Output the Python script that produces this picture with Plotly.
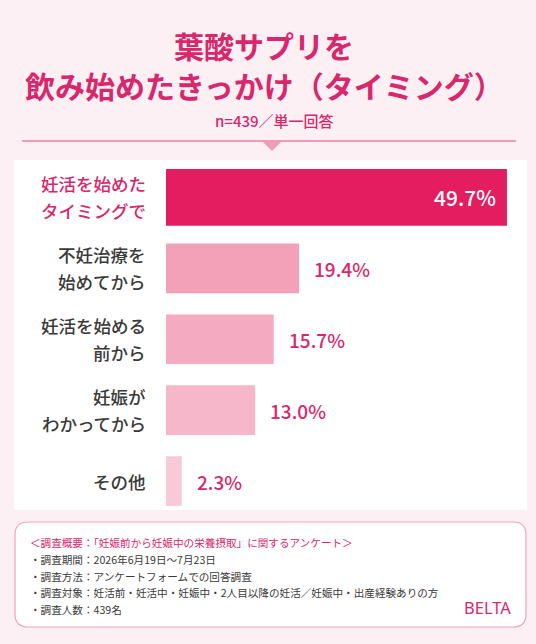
import plotly.graph_objects as go

# ---- data ----
categories = ["妊活を始めた<br>タイミングで", "不妊治療を<br>始めてから", "妊活を始める<br>前から",
              "妊娠が<br>わかってから", "その他"]
values = [49.7, 19.4, 15.7, 13.0, 2.3]
title_lines = ["葉酸サプリを", "飲み始めたきっかけ（タイミング）"]
subtitle = "n=439／単一回答"
footer_head = "＜調査概要：「妊娠前から妊娠中の栄養摂取」に関するアンケート＞"
footer_lines = ["・調査期間：2026年6月19日～7月23日",
                "・調査方法：アンケートフォームでの回答調査",
                "・調査対象：妊活前・妊活中・妊娠中・2人目以降の妊活／妊娠中・出産経験ありの方",
                "・調査人数：439名"]
brand = "BELTA"

# ---- styles ----
W, H = 536, 644
FONT = "Noto Sans CJK JP"
PINK = "#d9276c"
bar_colors = ["#e31d5f", "#f3a1b9", "#f4aac1", "#f6b7ca", "#f8c9d7"]
bar_widths = [0.8, 0.7, 0.7, 0.7, 0.7]

def px(x):
    return x / W

def py(y):
    return 1 - y / H

fig = go.Figure()
fig.add_trace(go.Bar(
    x=values, y=categories, orientation="h",
    marker=dict(color=bar_colors, line=dict(width=0)),
    width=bar_widths, hoverinfo="skip", showlegend=False,
))

x_left, x_right = 166, 527
scale = 6.86  # px per percent
fig.update_xaxes(domain=[px(x_left), px(x_right)], range=[0, (x_right - x_left) / scale],
                 visible=False, fixedrange=True)
fig.update_yaxes(domain=[py(516.5), py(162)], categoryorder="array", categoryarray=categories,
                 range=[4.5, -0.5], visible=False, fixedrange=True)

annotations = []
# category labels
for i, cat in enumerate(categories):
    lines = cat.split("<br>")
    n = len(lines)
    for j, ln in enumerate(lines):
        shift = (-(j - (n - 1) / 2)) * 27
        annotations.append(dict(
            x=px(148), xref="paper", y=cat, yref="y", yshift=shift,
            text=ln, showarrow=False, xanchor="right", yanchor="middle",
            font=dict(family=FONT, size=17.5, weight=500, color=PINK if i == 0 else "#3a3a3a"),
        ))
# value labels
for i, (cat, v) in enumerate(zip(categories, values)):
    if i == 0:
        annotations.append(dict(
            x=v, xref="x", y=cat, yref="y", text=f"{v:.1f}%", showarrow=False,
            xanchor="right", xshift=-9, yanchor="middle",
            font=dict(family=FONT, size=21, weight=500, color="white")))
    else:
        annotations.append(dict(
            x=v, xref="x", y=cat, yref="y", text=f"{v:.1f}%", showarrow=False,
            xanchor="left", xshift=13, yanchor="middle",
            font=dict(family=FONT, size=19, weight=500, color=PINK)))

# titles
annotations.append(dict(x=px(264), xref="paper", y=py(45), yref="paper", text="<b>%s</b>" % title_lines[0],
                        showarrow=False, xanchor="center", yanchor="middle",
                        font=dict(family=FONT, size=30, color=PINK)))
annotations.append(dict(x=px(264), xref="paper", y=py(85), yref="paper", text="<b>%s</b>" % title_lines[1],
                        showarrow=False, xanchor="center", yanchor="middle",
                        font=dict(family=FONT, size=30, color=PINK)))
annotations.append(dict(x=px(274), xref="paper", y=py(120), yref="paper", text=subtitle,
                        showarrow=False, xanchor="center", yanchor="middle",
                        font=dict(family=FONT, size=15, weight=500, color=PINK)))
# footer
foot_y = [542, 559, 576, 592, 609]
all_foot = [footer_head] + footer_lines
for k, (t, yy) in enumerate(zip(all_foot, foot_y)):
    annotations.append(dict(x=px(28), xref="paper", y=py(yy), yref="paper", text=t,
                            showarrow=False, xanchor="left", yanchor="middle",
                            font=dict(family=FONT, size=10.6, color=PINK if k == 0 else "#3a3a3a")))
annotations.append(dict(x=px(513), xref="paper", y=py(607), yref="paper", text=brand,
                        showarrow=False, xanchor="right", yanchor="middle",
                        font=dict(family="Noto Sans", size=16.5, color="#d9276c")))

shapes = [
    # white panel
    dict(type="rect", xref="paper", yref="paper", x0=px(14), x1=px(527), y0=py(510), y1=py(160),
         fillcolor="white", line=dict(width=0), layer="below"),
    # divider line
    dict(type="line", xref="paper", yref="paper", x0=px(22), x1=px(516), y0=py(141), y1=py(141),
         line=dict(color="#f39ab6", width=2)),
    # triangle
    dict(type="path", xref="paper", yref="paper",
         path=f"M {px(262)},{py(141)} L {px(282)},{py(141)} L {px(272)},{py(151)} Z",
         fillcolor="#f39ab6", line=dict(width=0)),
]
# rounded footer box
x0, x1, y0, y1, r = 15, 526, 522, 627, 13
path = (f"M {px(x0 + r)},{py(y0)} L {px(x1 - r)},{py(y0)} "
        f"Q {px(x1)},{py(y0)} {px(x1)},{py(y0 + r)} L {px(x1)},{py(y1 - r)} "
        f"Q {px(x1)},{py(y1)} {px(x1 - r)},{py(y1)} L {px(x0 + r)},{py(y1)} "
        f"Q {px(x0)},{py(y1)} {px(x0)},{py(y1 - r)} L {px(x0)},{py(y0 + r)} "
        f"Q {px(x0)},{py(y0)} {px(x0 + r)},{py(y0)} Z")
shapes.append(dict(type="path", xref="paper", yref="paper", path=path,
                   fillcolor="white", line=dict(color="#f0a3bf", width=1.2), layer="below"))

fig.update_layout(
    width=W, height=H, margin=dict(l=0, r=0, t=0, b=0),
    paper_bgcolor="#fcf0f4", plot_bgcolor="rgba(0,0,0,0)",
    annotations=annotations, shapes=shapes, bargap=0.3,
    font=dict(family=FONT),
)

fig.write_html("out.html", config={"displayModeBar": False},
               post_script="document.body.style.margin='0';document.body.style.background='#fcf0f4';")
